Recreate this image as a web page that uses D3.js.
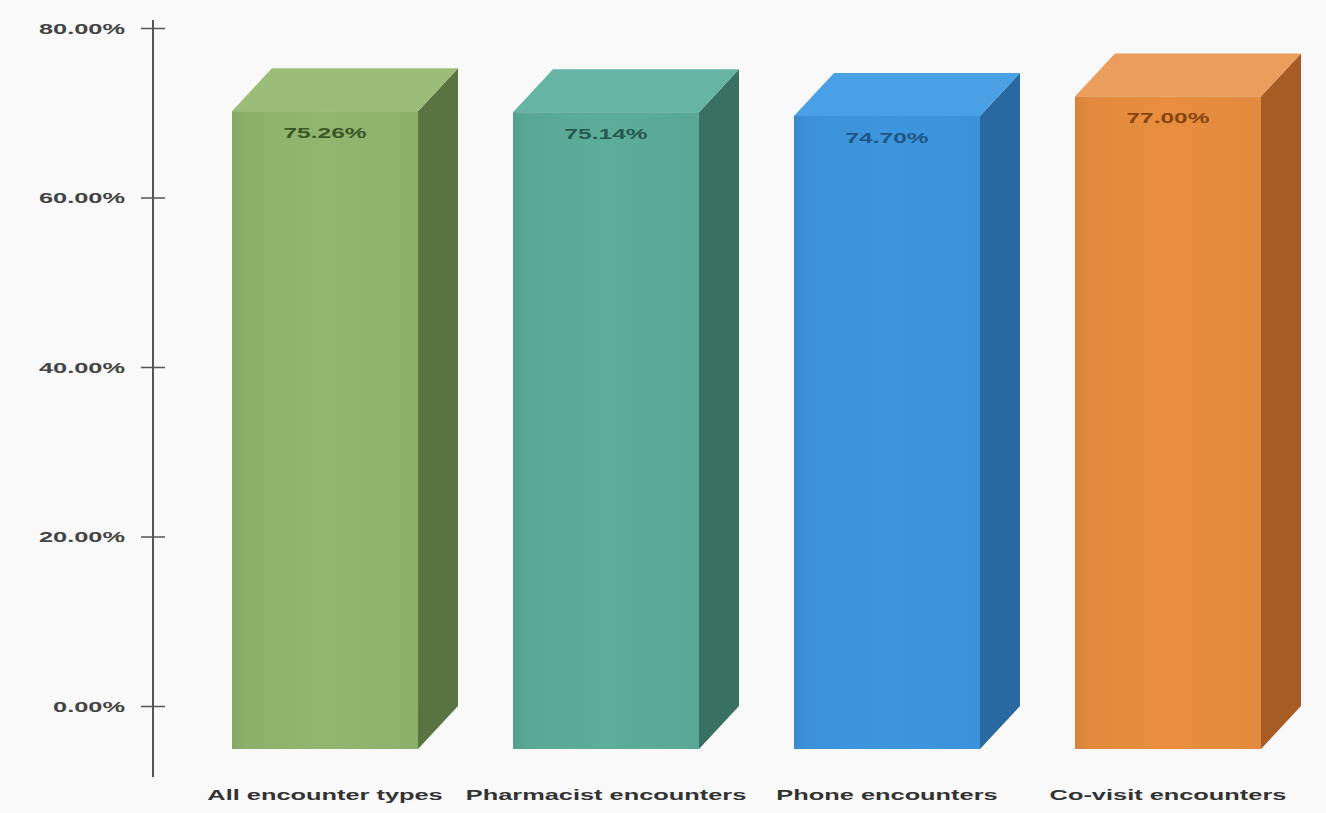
<!DOCTYPE html>
<html>
<head>
<meta charset="utf-8">
<script src="https://cdn.jsdelivr.net/npm/d3@7"></script>
<style>
  html, body { margin: 0; padding: 0; background: #f9f9f9; }
  svg { display: block; }
  text { font-family: "Liberation Sans", Arial, sans-serif; }
</style>
</head>
<body>
<svg id="chart" width="1326" height="813"></svg>
<script>
// Share of encounters by encounter type
const categories = ["All encounter types", "Pharmacist encounters", "Phone encounters", "Co-visit encounters"];
const values = [75.26, 75.14, 74.70, 77.00];
const valueLabels = ["75.26%", "75.14%", "74.70%", "77.00%"];
const tickValues = [0, 20, 40, 60, 80];

// face colours per bar: front, side, top, label
const frontColors = ["#8db16b", "#59a896", "#3b92d8", "#e28a3d"];
const sideColors  = ["#5a7441", "#387162", "#2968a1", "#a75c24"];
const topColors   = ["#9cbd7a", "#66b4a3", "#4aa0e4", "#eb9d5c"];
const labelColors = ["#3a5727", "#28594e", "#215584", "#864410"];

const W = 1326, H = 813;
const SX = 1.75;          // horizontal stretch applied to text
const depthX = 40, depthY = 43;

const svg = d3.select("#chart");

// back-wall value scale (axis sits on the back plane)
const y = d3.scaleLinear().domain([0, 80]).range([706, 28]);
const x = d3.scaleBand().domain(categories).range([232, 1261]).paddingInner(0.338).paddingOuter(0);

const defs = svg.append("defs");
categories.forEach((c, i) => {
  const g = defs.append("linearGradient").attr("id", "front" + i)
    .attr("x1", "0").attr("x2", "1").attr("y1", "0").attr("y2", "0");
  const base = d3.color(frontColors[i]);
  g.append("stop").attr("offset", "0%").attr("stop-color", base.darker(0.15));
  g.append("stop").attr("offset", "8%").attr("stop-color", base);
  g.append("stop").attr("offset", "50%").attr("stop-color", base.brighter(0.08));
  g.append("stop").attr("offset", "100%").attr("stop-color", base);
});

// axis
const axisX = 153;
const axis = d3.axisLeft(y).tickValues(tickValues)
  .tickFormat(d => d3.format(".2f")(d) + "%")
  .tickSize(0);
const ag = svg.append("g").attr("transform", `translate(${axisX},0)`).call(axis);
ag.select(".domain").remove();
ag.selectAll(".tick text")
  .attr("x", -28 / SX)
  .attr("dy", "0.35em")
  .attr("transform", `scale(${SX},1)`)
  .attr("fill", "#444")
  .attr("font-size", 14.5)
  .attr("font-weight", "bold");
ag.selectAll(".tick").append("line")
  .attr("x1", -12).attr("x2", 12)
  .attr("stroke", "#555").attr("stroke-width", 1.5);
ag.append("line")
  .attr("x1", 0).attr("x2", 0)
  .attr("y1", y(80) - 8).attr("y2", y(0) + depthY + 28)
  .attr("stroke", "#555").attr("stroke-width", 2);

// 3D bars
const bars = svg.append("g").selectAll("g.bar")
  .data(categories.map((c, i) => ({ c, v: values[i], i })))
  .join("g").attr("class", "bar");

bars.each(function (d) {
  const g = d3.select(this);
  const x0 = x(d.c), x1 = x(d.c) + x.bandwidth();
  const topF = y(d.v) + depthY, botF = y(0) + depthY;
  // side face
  g.append("path")
    .attr("d", `M${x1},${topF} L${x1 + depthX},${topF - depthY} L${x1 + depthX},${botF - depthY} L${x1},${botF} Z`)
    .attr("fill", sideColors[d.i]);
  // top face
  g.append("path")
    .attr("d", `M${x0},${topF} L${x0 + depthX},${topF - depthY} L${x1 + depthX},${topF - depthY} L${x1},${topF} Z`)
    .attr("fill", topColors[d.i]);
  // front face
  g.append("rect")
    .attr("x", x0).attr("y", topF)
    .attr("width", x.bandwidth()).attr("height", botF - topF)
    .attr("fill", `url(#front${d.i})`);
  // value label
  g.append("text")
    .attr("transform", `translate(${x0 + x.bandwidth() / 2},${topF + 27}) scale(${SX},1)`)
    .attr("text-anchor", "middle")
    .attr("font-size", 14)
    .attr("font-weight", "bold")
    .attr("fill", labelColors[d.i])
    .text(valueLabels[d.i]);
  // category label
  g.append("text")
    .attr("transform", `translate(${x0 + x.bandwidth() / 2},${botF + 51}) scale(${SX},1)`)
    .attr("text-anchor", "middle")
    .attr("font-size", 14.5)
    .attr("font-weight", "bold")
    .attr("fill", "#333")
    .text(d.c);
});
</script>
</body>
</html>
